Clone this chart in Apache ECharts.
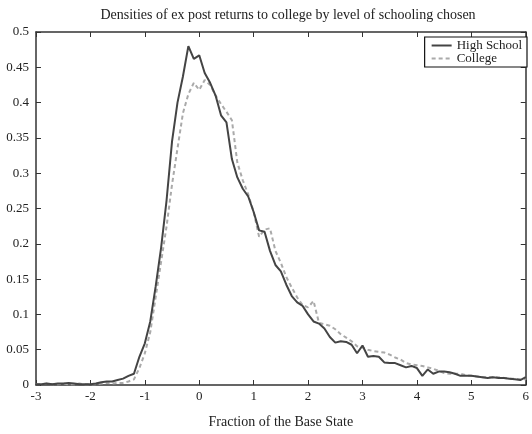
<!DOCTYPE html>
<html>
<head>
<meta charset="utf-8">
<script src="https://cdn.jsdelivr.net/npm/echarts@6/dist/echarts.min.js"></script>
<style>html,body{margin:0;padding:0;background:#fff}#c{width:532px;height:434px}</style>
</head>
<body>
<div id="c"></div>
<script>
const xValues = [-3.0,-2.9,-2.8,-2.7,-2.6,-2.5,-2.4,-2.3,-2.2,-2.1,-2.0,-1.9,-1.8,-1.7,-1.6,-1.5,-1.4,-1.3,-1.2,-1.1,-1.0,-0.9,-0.8,-0.7,-0.6,-0.5,-0.4,-0.3,-0.2,-0.1,0.0,0.1,0.2,0.3,0.4,0.5,0.6,0.7,0.8,0.9,1.0,1.1,1.2,1.3,1.4,1.5,1.6,1.7,1.8,1.9,2.0,2.1,2.2,2.3,2.4,2.5,2.6,2.7,2.8,2.9,3.0,3.1,3.2,3.3,3.4,3.5,3.6,3.7,3.8,3.9,4.0,4.1,4.2,4.3,4.4,4.5,4.6,4.7,4.8,4.9,5.0,5.1,5.2,5.3,5.4,5.5,5.6,5.7,5.8,5.9,6.0];
const highSchool = [0.001,0.001,0.002,0.001,0.002,0.002,0.003,0.002,0.001,0.001,0.001,0.002,0.004,0.005,0.005,0.007,0.009,0.013,0.016,0.040,0.059,0.090,0.140,0.195,0.262,0.345,0.400,0.437,0.480,0.462,0.467,0.442,0.428,0.410,0.382,0.372,0.320,0.294,0.278,0.267,0.245,0.219,0.217,0.190,0.170,0.161,0.142,0.126,0.117,0.112,0.100,0.090,0.087,0.080,0.068,0.060,0.062,0.061,0.057,0.045,0.056,0.040,0.041,0.040,0.032,0.031,0.031,0.028,0.025,0.027,0.024,0.013,0.022,0.016,0.019,0.019,0.018,0.016,0.013,0.013,0.013,0.012,0.011,0.010,0.011,0.010,0.010,0.009,0.008,0.007,0.011];
const college = [0.001,0.001,0.002,0.001,0.001,0.002,0.001,0.001,0.002,0.001,0.001,0.001,0.002,0.003,0.002,0.003,0.003,0.005,0.008,0.024,0.045,0.075,0.125,0.175,0.225,0.284,0.335,0.385,0.412,0.428,0.418,0.432,0.425,0.410,0.398,0.387,0.375,0.315,0.290,0.270,0.245,0.210,0.220,0.222,0.190,0.173,0.153,0.138,0.124,0.113,0.110,0.119,0.088,0.086,0.084,0.079,0.072,0.067,0.062,0.055,0.053,0.050,0.048,0.047,0.046,0.043,0.039,0.036,0.031,0.029,0.028,0.027,0.025,0.023,0.020,0.017,0.016,0.016,0.016,0.014,0.013,0.012,0.011,0.011,0.011,0.011,0.010,0.009,0.009,0.008,0.008];
const seriesNames = ['High School', 'College'];
const titleText = 'Densities of ex post returns to college by level of schooling chosen';
const xAxisName = 'Fraction of the Base State';

const font = 'Liberation Serif, Times New Roman, serif';
const axisCol = '#333';
const chart = echarts.init(document.getElementById('c'));
const common = {
  axisLine: {show: true, onZero: false, lineStyle: {color: axisCol, width: 1.5}},
  axisTick: {show: true, inside: true, length: 5, lineStyle: {color: axisCol, width: 1}},
  splitLine: {show: false}
};
chart.setOption({
  animation: false,
  backgroundColor: '#fff',
  title: {
    text: titleText, left: 283, top: 3, textAlign: 'center',
    textStyle: {fontFamily: font, fontSize: 14, fontWeight: 'normal', color: '#222'}
  },
  legend: {
    orient: 'vertical', right: 5, top: 37,
    data: seriesNames,
    backgroundColor: '#fff', borderColor: '#111', borderWidth: 1.2, borderRadius: 0,
    padding: [2, 5, 2, 6], itemGap: 0, itemWidth: 20, itemHeight: 12,
    itemStyle: {opacity: 0},
    textStyle: {fontFamily: font, fontSize: 13, color: '#222'}
  },
  grid: {left: 36, right: 2, top: 32, bottom: 48, containLabel: false},
  xAxis: [
    Object.assign({type: 'value', min: -3, max: 6, interval: 1, position: 'bottom',
      name: xAxisName, nameLocation: 'middle', nameGap: 30,
      nameTextStyle: {fontFamily: font, fontSize: 14, color: '#222'},
      axisLabel: {fontFamily: font, fontSize: 13, color: '#222', margin: 5}}, common),
    Object.assign({type: 'value', min: -3, max: 6, interval: 1, position: 'top',
      axisLabel: {show: false}}, common)
  ],
  yAxis: [
    Object.assign({type: 'value', min: 0, max: 0.5, interval: 0.05, position: 'left',
      axisLabel: {fontFamily: font, fontSize: 13, color: '#222', margin: 7}}, common),
    Object.assign({type: 'value', min: 0, max: 0.5, interval: 0.05, position: 'right',
      axisLabel: {show: false}}, common)
  ],
  series: [
    {name: seriesNames[0], type: 'line', symbol: 'none', z: 3,
      data: xValues.map((x, i) => [x, highSchool[i]]),
      lineStyle: {color: '#444', width: 2}, itemStyle: {color: '#444'}},
    {name: seriesNames[1], type: 'line', symbol: 'none', z: 2,
      data: xValues.map((x, i) => [x, college[i]]),
      lineStyle: {color: '#aaa', width: 2, type: [4, 3]}, itemStyle: {color: '#aaa'}}
  ]
});
</script>
</body>
</html>
